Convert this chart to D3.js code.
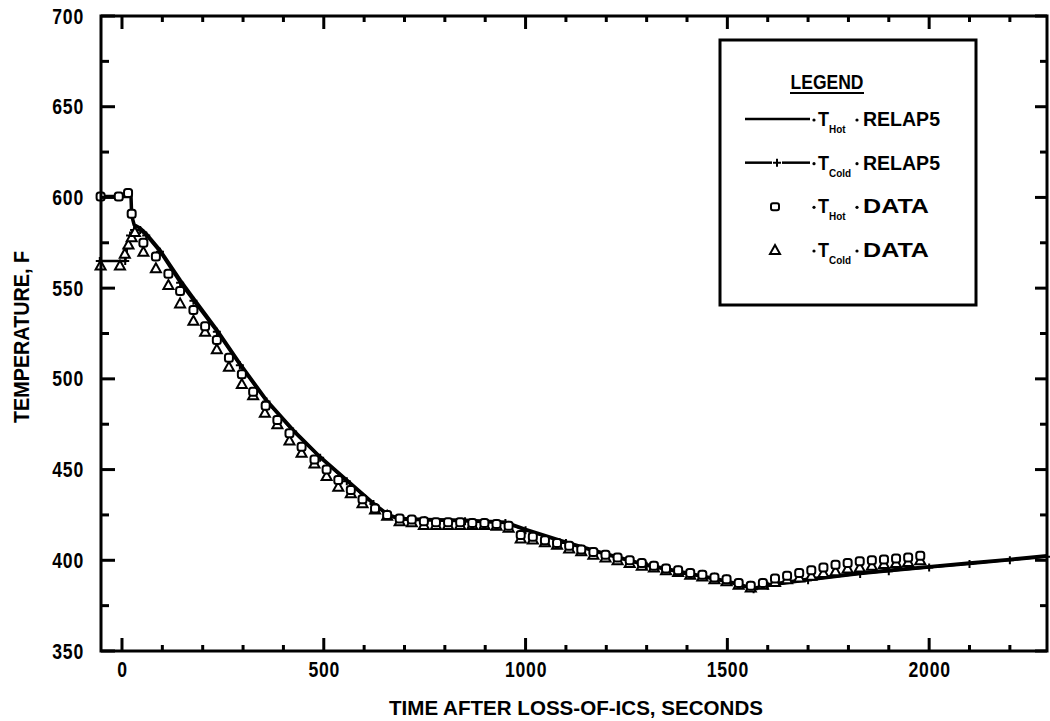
<!DOCTYPE html>
<html>
<head>
<meta charset="utf-8">
<script src="https://cdn.jsdelivr.net/npm/d3@7"></script>
<style>
body { margin: 0; background: #fff; }
text { font-family: "Liberation Sans", Arial, sans-serif; font-weight: bold; fill: #000; }
</style>
</head>
<body>
<script>
// values (time in s, temperature in F)
var hotDataT = [-53,-8,15,24,53,84,115,144,177,206,235,265,297,325,356,385,415,445,477,507,536,567,596,627,657,688,718,748,778,808,838,868,898,928,958,988,1018,1048,1078,1108,1138,1168,1198,1228,1258,1288,1318,1348,1378,1408,1438,1468,1498,1528,1558,1588,1618,1648,1678,1708,1738,1768,1798,1828,1858,1888,1918,1948,1978];
var hotDataV = [600.5,600.5,602.5,591,575,567.5,558,548.4,538,529,521.4,511.6,502.6,492.9,485.2,477.3,470,462.6,455.6,450.1,444.2,438.7,433.6,428.6,425,423,422.5,421.5,421,421,421,420.5,420.5,420,419,414,413,411,409.5,408,406,404.5,403,401.5,400,398.5,397,395.5,394.5,393,392,390.5,389.5,387.5,386,387.5,390,391.5,393,394.5,396,397.5,398.5,399.5,400,400.5,401,401.5,402.5];

var coldDataT = [-53,-5,7,16,24,32,53,84,115,144,177,206,235,265,297,325,354,385,415,445,477,507,536,567,596,627,657,688,718,748,778,808,838,868,898,928,958,988,1018,1048,1078,1108,1138,1168,1198,1228,1258,1288,1318,1348,1378,1408,1438,1468,1498,1528,1558,1588,1618,1648,1678,1708,1738,1768,1798,1828,1858,1888,1918,1948,1978];
var coldDataV = [562.5,562.5,569,574,578,581,570,561,551.7,541.6,532,526,516.3,506.7,497.1,491,481.3,475,466,459.3,453.4,446.4,440.5,436.9,431.4,428,424.5,421.5,421,419.5,419.5,419.5,419.5,419.5,419.5,419,418,412,411.5,410,408.5,406.5,405,403,401.5,400,398.5,397,396,394.5,393.5,392,391,389.5,388.5,386.5,385,386.5,388,389.5,390.5,391.5,393,394,395.5,396,397,398,398.5,399,400];

var hotRelapT = [-55,14,15,22,24,30,45,60,94,144,177,235,292,358,424,491,557,623,660,690,750,850,950,1000,1100,1200,1300,1400,1500,1565,1600,1700,1829,1900,2000,2100,2200,2292];
var hotRelapV = [600.5,600.5,603,603,590,585,583,580,571,554.5,544.4,527,508.5,488.3,471.8,457,444.2,431.4,425,423,422.5,422,421,417,410,403.5,397.5,393,388.5,384.5,386.5,389.5,393,394.5,396.5,398.5,400.5,402.5];

var coldRelapT = [-55,8,12,20,30,45,60,94,144,177,235,292,358,424,491,557,623,660,690,750,850,950,1000,1100,1200,1300,1400,1500,1565,1600,1700,1829,1900,2000,2100,2200,2292];
var coldRelapV = [565,565,572,579,582,582,579,570,553,543,526,507.5,487.5,471,456.5,443.5,431,424.5,422.5,422,421.5,420.5,416.5,409.5,403,397,392.5,388,384,386,389,392.5,394,396,398,400,402];

var xMajor = [0,500,1000,1500,2000];
var xMinor = [100,200,300,400,600,700,800,900,1100,1200,1300,1400,1600,1700,1800,1900,2100,2200];
var yMajor = [350,400,450,500,550,600,650,700];
var yMinor = [375,425,475,525,575,625,675];

var legendRows = [
	{kind: "solid", sub: "Hot", src: "RELAP5"},
	{kind: "dashplus", sub: "Cold", src: "RELAP5"},
	{kind: "square", sub: "Hot", src: "DATA"},
	{kind: "triangle", sub: "Cold", src: "DATA"}
];

var w = 1050, h = 721;
var mLeft = 101, mRight = 1047, mTop = 16, mBottom = 651;
var squeeze = 0.8;
var tickColor = "#000";

var svg = d3.select("body").append("svg")
	.attr("width", w)
	.attr("height", h);

var x = d3.scaleLinear().domain([-52, 2292]).range([mLeft, mRight]);
var y = d3.scaleLinear().domain([350, 700]).range([mBottom, mTop]);

function zip(ts, vs){
	return ts.map(function(t, i){ return [t, vs[i]]; });
}

// tick labels from d3 axes (tick marks drawn separately below)
svg.append("g").attr("class", "ax")
	.attr("transform", "translate(0," + mBottom + ")")
	.call(d3.axisBottom(x).tickValues(xMajor).tickSize(0).tickPadding(10).tickFormat(d3.format("d")));
svg.append("g").attr("class", "ax")
	.attr("transform", "translate(" + mLeft + ",0)")
	.call(d3.axisLeft(y).tickValues(yMajor).tickSize(0).tickPadding(17).tickFormat(d3.format("d")));
svg.selectAll(".ax .domain").remove();
svg.selectAll(".ax line").remove();
svg.selectAll(".ax text")
	.attr("font-size", 22)
	.attr("font-family", null)
	.style("letter-spacing", "1px")
	.each(function(){
		var t = d3.select(this);
		var tx = +t.attr("x") || 0;
		t.attr("x", tx / squeeze).attr("transform", "scale(" + squeeze + ",1)");
	});

// axis titles
svg.append("text")
	.attr("x", 576).attr("y", 715)
	.attr("text-anchor", "middle")
	.attr("font-size", 21)
	.attr("textLength", 374)
	.attr("lengthAdjust", "spacingAndGlyphs")
	.text("TIME AFTER LOSS-OF-ICS, SECONDS");
svg.append("text")
	.attr("transform", "translate(29,337) rotate(-90)")
	.attr("text-anchor", "middle")
	.attr("font-size", 22)
	.attr("textLength", 172)
	.attr("lengthAdjust", "spacingAndGlyphs")
	.text("TEMPERATURE, F");

var line = d3.line()
	.x(function(d){ return x(d[0]); })
	.y(function(d){ return y(d[1]); });

var plot = svg.append("g");

// RELAP5 lines
plot.append("path")
	.datum(zip(coldRelapT, coldRelapV))
	.attr("d", line)
	.attr("fill", "none").attr("stroke", "#000").attr("stroke-width", 2.5);
plot.selectAll(".plus")
	.data(zip(coldRelapT, coldRelapV))
	.enter().append("path")
	.attr("class", "plus")
	.attr("transform", function(d){ return "translate(" + x(d[0]) + "," + y(d[1]) + ")"; })
	.attr("d", "M-4,0H4M0,-4V4")
	.attr("stroke", "#000").attr("stroke-width", 2);
plot.append("path")
	.datum(zip(hotRelapT, hotRelapV))
	.attr("d", line)
	.attr("fill", "none").attr("stroke", "#000").attr("stroke-width", 3.5);

// data markers
plot.selectAll(".tri")
	.data(zip(coldDataT, coldDataV))
	.enter().append("path")
	.attr("class", "tri")
	.attr("transform", function(d){ return "translate(" + x(d[0]) + "," + y(d[1]) + ")"; })
	.attr("d", "M0,-5L5,4H-5Z")
	.attr("fill", "#fff").attr("stroke", "#000").attr("stroke-width", 2);
plot.selectAll(".sq")
	.data(zip(hotDataT, hotDataV))
	.enter().append("rect")
	.attr("class", "sq")
	.attr("x", function(d){ return x(d[0]) - 4; })
	.attr("y", function(d){ return y(d[1]) - 4; })
	.attr("width", 8).attr("height", 8)
	.attr("rx", 2.5)
	.attr("fill", "#fff").attr("stroke", "#000").attr("stroke-width", 2);

// frame and inward tick marks
var frame = svg.append("g");
frame.append("rect")
	.attr("x", mLeft).attr("y", mTop)
	.attr("width", mRight - mLeft).attr("height", mBottom - mTop)
	.attr("fill", "none").attr("stroke", "#000").attr("stroke-width", 3);

function xTicks(vals, len){
	frame.selectAll(null).data(vals).enter().append("line")
		.attr("x1", function(d){ return x(d); }).attr("x2", function(d){ return x(d); })
		.attr("y1", mBottom).attr("y2", mBottom - len)
		.attr("stroke", tickColor).attr("stroke-width", 3);
	frame.selectAll(null).data(vals).enter().append("line")
		.attr("x1", function(d){ return x(d); }).attr("x2", function(d){ return x(d); })
		.attr("y1", mTop).attr("y2", mTop + len)
		.attr("stroke", tickColor).attr("stroke-width", 3);
}
function yTicks(vals, lenL, lenR){
	frame.selectAll(null).data(vals).enter().append("line")
		.attr("y1", function(d){ return y(d); }).attr("y2", function(d){ return y(d); })
		.attr("x1", mLeft).attr("x2", mLeft + lenL)
		.attr("stroke", tickColor).attr("stroke-width", 3);
	frame.selectAll(null).data(vals).enter().append("line")
		.attr("y1", function(d){ return y(d); }).attr("y2", function(d){ return y(d); })
		.attr("x1", mRight).attr("x2", mRight - lenR)
		.attr("stroke", tickColor).attr("stroke-width", 3);
}
xTicks(xMajor, 13);
xTicks(xMinor, 6);
yTicks(yMajor, 14, 12);
yTicks(yMinor, 8, 7);

// legend
var lg = svg.append("g");
lg.append("rect")
	.attr("x", 720).attr("y", 40).attr("width", 256).attr("height", 265)
	.attr("fill", "#fff").attr("stroke", "#000").attr("stroke-width", 3);
lg.append("text")
	.attr("x", 827).attr("y", 89)
	.attr("text-anchor", "middle")
	.attr("font-size", 21)
	.attr("textLength", 73)
	.attr("lengthAdjust", "spacingAndGlyphs")
	.text("LEGEND");
lg.append("line")
	.attr("x1", 790).attr("x2", 864).attr("y1", 93).attr("y2", 93)
	.attr("stroke", "#000").attr("stroke-width", 2);

var rowY = d3.scalePoint().domain(d3.range(legendRows.length)).range([119, 250]);
var rows = lg.selectAll(".row")
	.data(legendRows)
	.enter().append("g")
	.attr("transform", function(d, i){ return "translate(0," + rowY(i) + ")"; });

rows.each(function(d){
	var g = d3.select(this);
	if (d.kind == "solid") {
		g.append("line").attr("x1", 745).attr("x2", 810).attr("y1", 0).attr("y2", 0)
			.attr("stroke", "#000").attr("stroke-width", 2.5);
	} else if (d.kind == "dashplus") {
		g.append("line").attr("x1", 745).attr("x2", 772).attr("y1", 0).attr("y2", 0)
			.attr("stroke", "#000").attr("stroke-width", 2.5);
		g.append("line").attr("x1", 782).attr("x2", 810).attr("y1", 0).attr("y2", 0)
			.attr("stroke", "#000").attr("stroke-width", 2.5);
		g.append("path").attr("d", "M773,0H781M777,-4V4")
			.attr("stroke", "#000").attr("stroke-width", 2);
	} else if (d.kind == "square") {
		g.append("rect").attr("x", 771).attr("y", -3).attr("width", 8).attr("height", 7).attr("rx", 2)
			.attr("fill", "#fff").attr("stroke", "#000").attr("stroke-width", 2);
	} else {
		g.append("path").attr("d", "M775,-5L780,4H770Z")
			.attr("fill", "#fff").attr("stroke", "#000").attr("stroke-width", 2);
	}
	g.append("circle").attr("cx", 814).attr("cy", 1).attr("r", 1.6).attr("fill", "#000");
	g.append("text").attr("x", 818).attr("y", 7).attr("font-size", 21)
		.attr("textLength", 11).attr("lengthAdjust", "spacingAndGlyphs").text("T");
	g.append("text").attr("x", 829).attr("y", 14).attr("font-size", 11)
		.attr("textLength", d.sub.length * 5.5).attr("lengthAdjust", "spacingAndGlyphs").text(d.sub);
	g.append("circle").attr("cx", 857).attr("cy", 1).attr("r", 1.6).attr("fill", "#000");
	g.append("text").attr("x", 863).attr("y", 7).attr("font-size", 21)
		.attr("textLength", d.src == "DATA" ? 66 : 77)
		.attr("lengthAdjust", "spacingAndGlyphs").text(d.src);
});
</script>
</body>
</html>
